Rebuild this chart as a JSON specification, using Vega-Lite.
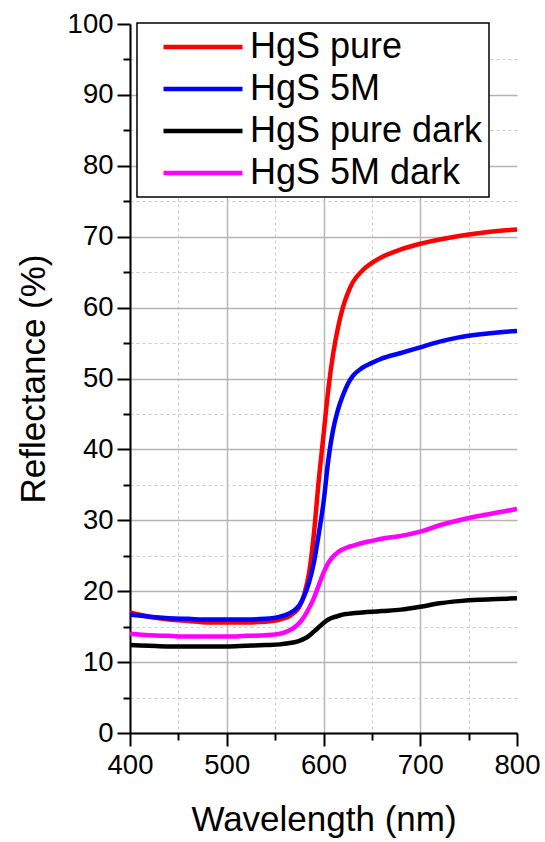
{
  "$schema": "https://vega.github.io/schema/vega-lite/v6.json",
  "width": 387,
  "height": 709,
  "autosize": "none",
  "padding": {"left": 130, "top": 24, "right": 28, "bottom": 109},
  "background": "white",
  "config": {
    "view": {"stroke": null},
    "font": "Liberation Sans",
    "legend": {"strokeWidth": 1.5}
  },
  "data": {
    "values": [
      {"wl": 400, "R": 17.0, "series": "HgS pure"},
      {"wl": 420, "R": 16.4, "series": "HgS pure"},
      {"wl": 440, "R": 16.0, "series": "HgS pure"},
      {"wl": 460, "R": 15.8, "series": "HgS pure"},
      {"wl": 480, "R": 15.6, "series": "HgS pure"},
      {"wl": 500, "R": 15.6, "series": "HgS pure"},
      {"wl": 520, "R": 15.6, "series": "HgS pure"},
      {"wl": 540, "R": 15.7, "series": "HgS pure"},
      {"wl": 555, "R": 16.0, "series": "HgS pure"},
      {"wl": 565, "R": 16.5, "series": "HgS pure"},
      {"wl": 570, "R": 17.0, "series": "HgS pure"},
      {"wl": 575, "R": 17.8, "series": "HgS pure"},
      {"wl": 580, "R": 19.5, "series": "HgS pure"},
      {"wl": 585, "R": 22.5, "series": "HgS pure"},
      {"wl": 590, "R": 28.0, "series": "HgS pure"},
      {"wl": 595, "R": 35.5, "series": "HgS pure"},
      {"wl": 600, "R": 42.0, "series": "HgS pure"},
      {"wl": 605, "R": 48.5, "series": "HgS pure"},
      {"wl": 610, "R": 53.5, "series": "HgS pure"},
      {"wl": 615, "R": 57.2, "series": "HgS pure"},
      {"wl": 620, "R": 60.0, "series": "HgS pure"},
      {"wl": 625, "R": 62.0, "series": "HgS pure"},
      {"wl": 630, "R": 63.5, "series": "HgS pure"},
      {"wl": 640, "R": 65.2, "series": "HgS pure"},
      {"wl": 650, "R": 66.3, "series": "HgS pure"},
      {"wl": 660, "R": 67.1, "series": "HgS pure"},
      {"wl": 680, "R": 68.2, "series": "HgS pure"},
      {"wl": 700, "R": 69.0, "series": "HgS pure"},
      {"wl": 720, "R": 69.6, "series": "HgS pure"},
      {"wl": 740, "R": 70.1, "series": "HgS pure"},
      {"wl": 760, "R": 70.5, "series": "HgS pure"},
      {"wl": 780, "R": 70.8, "series": "HgS pure"},
      {"wl": 800, "R": 71.0, "series": "HgS pure"},

      {"wl": 400, "R": 16.7, "series": "HgS 5M"},
      {"wl": 420, "R": 16.4, "series": "HgS 5M"},
      {"wl": 440, "R": 16.2, "series": "HgS 5M"},
      {"wl": 460, "R": 16.1, "series": "HgS 5M"},
      {"wl": 480, "R": 16.0, "series": "HgS 5M"},
      {"wl": 500, "R": 16.0, "series": "HgS 5M"},
      {"wl": 520, "R": 16.0, "series": "HgS 5M"},
      {"wl": 540, "R": 16.1, "series": "HgS 5M"},
      {"wl": 555, "R": 16.4, "series": "HgS 5M"},
      {"wl": 565, "R": 16.9, "series": "HgS 5M"},
      {"wl": 570, "R": 17.3, "series": "HgS 5M"},
      {"wl": 575, "R": 18.0, "series": "HgS 5M"},
      {"wl": 580, "R": 19.3, "series": "HgS 5M"},
      {"wl": 585, "R": 21.2, "series": "HgS 5M"},
      {"wl": 590, "R": 24.0, "series": "HgS 5M"},
      {"wl": 595, "R": 28.0, "series": "HgS 5M"},
      {"wl": 600, "R": 32.5, "series": "HgS 5M"},
      {"wl": 605, "R": 38.5, "series": "HgS 5M"},
      {"wl": 610, "R": 42.8, "series": "HgS 5M"},
      {"wl": 615, "R": 45.6, "series": "HgS 5M"},
      {"wl": 620, "R": 47.6, "series": "HgS 5M"},
      {"wl": 625, "R": 49.2, "series": "HgS 5M"},
      {"wl": 630, "R": 50.3, "series": "HgS 5M"},
      {"wl": 640, "R": 51.5, "series": "HgS 5M"},
      {"wl": 650, "R": 52.2, "series": "HgS 5M"},
      {"wl": 660, "R": 52.8, "series": "HgS 5M"},
      {"wl": 680, "R": 53.6, "series": "HgS 5M"},
      {"wl": 700, "R": 54.4, "series": "HgS 5M"},
      {"wl": 720, "R": 55.2, "series": "HgS 5M"},
      {"wl": 740, "R": 55.8, "series": "HgS 5M"},
      {"wl": 760, "R": 56.2, "series": "HgS 5M"},
      {"wl": 780, "R": 56.5, "series": "HgS 5M"},
      {"wl": 800, "R": 56.7, "series": "HgS 5M"},

      {"wl": 400, "R": 12.4, "series": "HgS pure dark"},
      {"wl": 420, "R": 12.3, "series": "HgS pure dark"},
      {"wl": 440, "R": 12.2, "series": "HgS pure dark"},
      {"wl": 460, "R": 12.2, "series": "HgS pure dark"},
      {"wl": 480, "R": 12.2, "series": "HgS pure dark"},
      {"wl": 500, "R": 12.2, "series": "HgS pure dark"},
      {"wl": 520, "R": 12.3, "series": "HgS pure dark"},
      {"wl": 540, "R": 12.4, "series": "HgS pure dark"},
      {"wl": 555, "R": 12.5, "series": "HgS pure dark"},
      {"wl": 565, "R": 12.7, "series": "HgS pure dark"},
      {"wl": 570, "R": 12.8, "series": "HgS pure dark"},
      {"wl": 575, "R": 13.0, "series": "HgS pure dark"},
      {"wl": 580, "R": 13.3, "series": "HgS pure dark"},
      {"wl": 585, "R": 13.7, "series": "HgS pure dark"},
      {"wl": 590, "R": 14.3, "series": "HgS pure dark"},
      {"wl": 595, "R": 14.9, "series": "HgS pure dark"},
      {"wl": 600, "R": 15.5, "series": "HgS pure dark"},
      {"wl": 605, "R": 16.0, "series": "HgS pure dark"},
      {"wl": 610, "R": 16.3, "series": "HgS pure dark"},
      {"wl": 615, "R": 16.5, "series": "HgS pure dark"},
      {"wl": 620, "R": 16.7, "series": "HgS pure dark"},
      {"wl": 625, "R": 16.8, "series": "HgS pure dark"},
      {"wl": 630, "R": 16.9, "series": "HgS pure dark"},
      {"wl": 640, "R": 17.0, "series": "HgS pure dark"},
      {"wl": 650, "R": 17.1, "series": "HgS pure dark"},
      {"wl": 660, "R": 17.2, "series": "HgS pure dark"},
      {"wl": 680, "R": 17.4, "series": "HgS pure dark"},
      {"wl": 700, "R": 17.8, "series": "HgS pure dark"},
      {"wl": 720, "R": 18.3, "series": "HgS pure dark"},
      {"wl": 740, "R": 18.6, "series": "HgS pure dark"},
      {"wl": 760, "R": 18.8, "series": "HgS pure dark"},
      {"wl": 780, "R": 18.9, "series": "HgS pure dark"},
      {"wl": 800, "R": 19.0, "series": "HgS pure dark"},

      {"wl": 400, "R": 14.0, "series": "HgS 5M dark"},
      {"wl": 420, "R": 13.8, "series": "HgS 5M dark"},
      {"wl": 440, "R": 13.7, "series": "HgS 5M dark"},
      {"wl": 460, "R": 13.6, "series": "HgS 5M dark"},
      {"wl": 480, "R": 13.6, "series": "HgS 5M dark"},
      {"wl": 500, "R": 13.6, "series": "HgS 5M dark"},
      {"wl": 520, "R": 13.7, "series": "HgS 5M dark"},
      {"wl": 540, "R": 13.8, "series": "HgS 5M dark"},
      {"wl": 555, "R": 14.0, "series": "HgS 5M dark"},
      {"wl": 565, "R": 14.5, "series": "HgS 5M dark"},
      {"wl": 570, "R": 14.9, "series": "HgS 5M dark"},
      {"wl": 575, "R": 15.5, "series": "HgS 5M dark"},
      {"wl": 580, "R": 16.4, "series": "HgS 5M dark"},
      {"wl": 585, "R": 17.6, "series": "HgS 5M dark"},
      {"wl": 590, "R": 19.0, "series": "HgS 5M dark"},
      {"wl": 595, "R": 20.8, "series": "HgS 5M dark"},
      {"wl": 600, "R": 22.6, "series": "HgS 5M dark"},
      {"wl": 605, "R": 24.0, "series": "HgS 5M dark"},
      {"wl": 610, "R": 24.9, "series": "HgS 5M dark"},
      {"wl": 615, "R": 25.5, "series": "HgS 5M dark"},
      {"wl": 620, "R": 25.9, "series": "HgS 5M dark"},
      {"wl": 625, "R": 26.2, "series": "HgS 5M dark"},
      {"wl": 630, "R": 26.4, "series": "HgS 5M dark"},
      {"wl": 640, "R": 26.8, "series": "HgS 5M dark"},
      {"wl": 650, "R": 27.1, "series": "HgS 5M dark"},
      {"wl": 660, "R": 27.4, "series": "HgS 5M dark"},
      {"wl": 680, "R": 27.8, "series": "HgS 5M dark"},
      {"wl": 700, "R": 28.4, "series": "HgS 5M dark"},
      {"wl": 720, "R": 29.3, "series": "HgS 5M dark"},
      {"wl": 740, "R": 30.0, "series": "HgS 5M dark"},
      {"wl": 760, "R": 30.6, "series": "HgS 5M dark"},
      {"wl": 780, "R": 31.1, "series": "HgS 5M dark"},
      {"wl": 800, "R": 31.6, "series": "HgS 5M dark"}
    ]
  },
  "mark": {"type": "line", "strokeWidth": 4.5, "interpolate": "monotone"},
  "encoding": {
    "x": {
      "field": "wl",
      "type": "quantitative",
      "scale": {"domain": [400, 800], "nice": false, "zero": false},
      "axis": {
        "title": "Wavelength (nm)",
        "titleFont": "Liberation Sans",
        "titleFontSize": 35,
        "titleFontWeight": "normal",
        "titleColor": "black",
        "titleX": 193.5,
        "titleY": 97,
        "titleAlign": "center",
        "titleBaseline": "alphabetic",
        "values": [400, 450, 500, 550, 600, 650, 700, 750, 800],
        "labelExpr": "datum.value % 100 === 0 ? datum.label : ''",
        "labelFont": "Liberation Sans",
        "labelFontSize": 27.5,
        "labelColor": "black",
        "labelPadding": 5,
        "labelOverlap": false,
        "labelFlush": false,
        "domainColor": "black",
        "domainWidth": 2,
        "tickColor": "black",
        "tickWidth": 2,
        "tickSize": {"condition": {"test": "datum.value % 100 === 0", "value": 13}, "value": 7},
        "grid": true,
        "gridColor": {"condition": {"test": "datum.value % 100 === 0", "value": "#b3b3b3"}, "value": "#cccccc"},
        "gridWidth": {"condition": {"test": "datum.value % 100 === 0", "value": 1.4}, "value": 1},
        "gridDash": {"condition": {"test": "datum.value % 100 === 0", "value": []}, "value": [3, 3]},
        "gridOpacity": {"condition": {"test": "datum.value === 800", "value": 0}, "value": 1}
      }
    },
    "y": {
      "field": "R",
      "type": "quantitative",
      "scale": {"domain": [0, 100], "nice": false},
      "axis": {
        "title": "Reflectance (%)",
        "titleFont": "Liberation Sans",
        "titleFontSize": 35,
        "titleFontWeight": "normal",
        "titleColor": "black",
        "titleX": -86,
        "titleY": 354.5,
        "titleAlign": "center",
        "titleBaseline": "alphabetic",
        "titleAngle": -90,
        "values": [0, 5, 10, 15, 20, 25, 30, 35, 40, 45, 50, 55, 60, 65, 70, 75, 80, 85, 90, 95, 100],
        "labelExpr": "datum.value % 10 === 0 ? datum.label : ''",
        "labelFont": "Liberation Sans",
        "labelFontSize": 27.5,
        "labelColor": "black",
        "labelPadding": 4,
        "labelOverlap": false,
        "labelFlush": false,
        "domainColor": "black",
        "domainWidth": 2,
        "tickColor": "black",
        "tickWidth": 2,
        "tickSize": {"condition": {"test": "datum.value % 10 === 0", "value": 13}, "value": 7},
        "grid": true,
        "gridColor": {"condition": {"test": "datum.value % 10 === 0", "value": "#b3b3b3"}, "value": "#cccccc"},
        "gridWidth": {"condition": {"test": "datum.value % 10 === 0", "value": 1.4}, "value": 1},
        "gridDash": {"condition": {"test": "datum.value % 10 === 0", "value": []}, "value": [3, 3]},
        "gridOpacity": {"condition": {"test": "datum.value === 100", "value": 0}, "value": 1}
      }
    },
    "color": {
      "field": "series",
      "type": "nominal",
      "scale": {
        "domain": ["HgS pure", "HgS 5M", "HgS pure dark", "HgS 5M dark"],
        "range": ["#ff0000", "#0000ff", "#000000", "#ff00ff"]
      },
      "legend": {
        "title": null,
        "orient": "none",
        "legendX": 7,
        "legendY": -1,
        "direction": "vertical",
        "strokeColor": "black",
        "fillColor": "white",
        "padding": 6,
        "symbolType": "M-4,0H4",
        "symbolSize": 390,
        "symbolStrokeWidth": 4.5,
        "symbolOffset": 42,
        "labelFont": "Liberation Sans",
        "labelFontSize": 36,
        "labelColor": "black",
        "labelOffset": 29,
        "labelLimit": 400,
        "rowPadding": 6
      }
    }
  }
}
